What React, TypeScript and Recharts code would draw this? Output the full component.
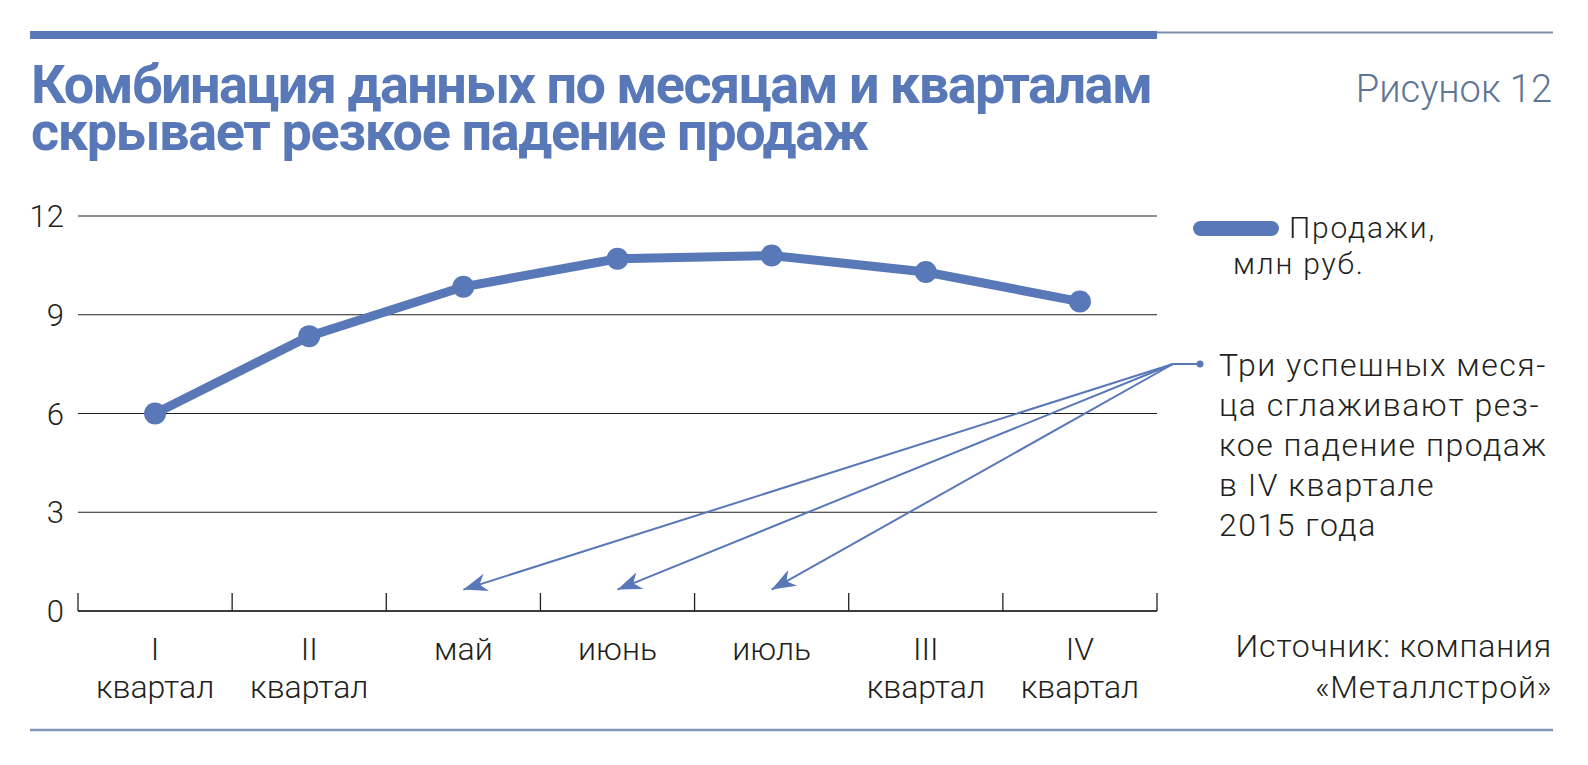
import React from "react";
import {
  LineChart, Line, XAxis, YAxis, CartesianGrid, Legend,
} from "recharts";

const categories = ["I\nквартал", "II\nквартал", "май", "июнь", "июль", "III\nквартал", "IV\nквартал"];
const sales = [6.0, 8.35, 9.85, 10.7, 10.8, 10.3, 9.4];
const yTicks = [0, 3, 6, 9, 12];
const titleLines = ["Комбинация данных по месяцам и кварталам", "скрывает резкое падение продаж"];
const figureLabel = "Рисунок 12";
const legendLines = ["Продажи,", "млн руб."];
const noteLines = ["Три успешных меся-", "ца сглаживают рез-", "кое падение продаж", "в IV квартале", "2015 года"];
const noteTargets = ["май", "июнь", "июль"];
const noteTargetValue = 0.65;
const sourceLines = ["Источник: компания", "«Металлстрой»"];

const W = 1588;
const H = 765;
const PLOT_L = 78;
const PLOT_R = 1157;
const PLOT_T = 216;
const PLOT_B = 611;
const Y_MAX = 12;
const PLOT_W = PLOT_R - PLOT_L;
const BAND = PLOT_W / categories.length;

const BLUE = "#5878b8";
const INK = "#231f20";
const FONT = "Roboto, 'Noto Sans', sans-serif";

const data = categories.map((label, i) => ({ label, value: sales[i] }));

const CategoryTick = ({ x, y, payload, index }: any) => {
  const half = BAND / 2;
  const lines = String(payload.value).split("\n");
  const last = index === categories.length - 1;
  return (
    <g>
      <line x1={x - half} x2={x - half} y1={y - 18} y2={y} stroke={INK} strokeWidth={1.3} />
      {last && <line x1={x + half} x2={x + half} y1={y - 18} y2={y} stroke={INK} strokeWidth={1.3} />}
      <text textAnchor="middle" fontFamily={FONT} fontWeight={300} fontSize={32} fill={INK}>
        {lines.map((l, i) => (
          <tspan key={i} x={x} y={y + 49 + i * 38}>{l}</tspan>
        ))}
      </text>
    </g>
  );
};

const LegendBox = () => (
  <div style={{ fontFamily: FONT, fontWeight: 300, fontSize: 30, color: INK, lineHeight: "36px", letterSpacing: 1.8, whiteSpace: "nowrap" }}>
    <span style={{
      display: "inline-block", width: 86, height: 15, borderRadius: 8,
      background: BLUE, marginRight: 10, verticalAlign: 2,
    }} />
    {legendLines[0]}
    <div style={{ paddingLeft: 40 }}>{legendLines[1]}</div>
  </div>
);

// annotation geometry follows the same linear mapping the chart uses
const xOf = (cat: string) => PLOT_L + (categories.indexOf(cat) + 0.5) * BAND;
const yOf = (v: number) => PLOT_B - (v / Y_MAX) * (PLOT_B - PLOT_T);

export default function App() {
  const hub = { x: 1173, y: 364 };
  return (
    <div style={{ position: "relative", width: W, height: H, background: "#fff" }}>
      <style>{`body{margin:0}`}</style>
      <LineChart
        width={W}
        height={H}
        data={data}
        margin={{ top: PLOT_T, right: W - PLOT_R, bottom: H - PLOT_B - 100, left: 0 }}
      >
        <CartesianGrid vertical={false} stroke={INK} strokeWidth={1.2} />
        <XAxis
          dataKey="label"
          scale="point"
          padding={{ left: BAND / 2, right: BAND / 2 }}
          height={100}
          axisLine={{ stroke: INK, strokeWidth: 1.3 }}
          tickLine={false}
          tickSize={0}
          tickMargin={0}
          interval={0}
          tick={<CategoryTick />}
        />
        <YAxis
          domain={[0, Y_MAX]}
          ticks={yTicks}
          width={PLOT_L}
          axisLine={false}
          tickLine={false}
          tickSize={0}
          tickMargin={14}
          tick={{ fill: INK, fontSize: 31, fontFamily: FONT, fontWeight: 300 }}
        />
        <Legend
          layout="horizontal"
          verticalAlign="middle"
          align="center"
          content={<LegendBox />}
          wrapperStyle={{ position: "absolute", left: 1193, top: 210, width: 380, height: 80 }}
        />
        <Line
          type="linear"
          dataKey="value"
          name="Продажи, млн руб."
          stroke={BLUE}
          strokeWidth={9}
          dot={{ r: 11, fill: BLUE, stroke: "none" }}
          activeDot={false}
          isAnimationActive={false}
        />
      </LineChart>

      <svg width={W} height={H} style={{ position: "absolute", left: 0, top: 0, pointerEvents: "none" }}>
        <defs>
          <marker id="arrowHead" markerUnits="userSpaceOnUse" markerWidth={26} markerHeight={18}
            refX={24} refY={9} orient="auto">
            <path d="M24,9 L0,0 L7,9 L0,18 Z" fill={BLUE} />
          </marker>
        </defs>

        {/* top rule */}
        <rect x={30} y={31} width={PLOT_R - 30} height={8} fill={BLUE} />
        <line x1={PLOT_R} x2={1553} y1={32.5} y2={32.5} stroke="#7d90aa" strokeWidth={2} />

        {/* title */}
        <text fontFamily={FONT} fontWeight={700} fontSize={54} fill={BLUE}>
          <tspan x={31} y={103} textLength={1122} lengthAdjust="spacing">{titleLines[0]}</tspan>
          <tspan x={31} y={150} textLength={838} lengthAdjust="spacing">{titleLines[1]}</tspan>
        </text>
        <text x={1552} y={102} textAnchor="end" fontFamily={FONT} fontWeight={300} fontSize={38} fill="#5e7594">
          {figureLabel}
        </text>

        {/* annotation */}
        {noteTargets.map((c) => (
          <line key={c} x1={hub.x} y1={hub.y} x2={xOf(c)} y2={yOf(noteTargetValue)}
            stroke={BLUE} strokeWidth={2} markerEnd="url(#arrowHead)" />
        ))}
        <line x1={hub.x} x2={1200} y1={hub.y} y2={hub.y} stroke={BLUE} strokeWidth={2} />
        <circle cx={1200} cy={hub.y} r={3.5} fill={BLUE} />
        <text fontFamily={FONT} fontWeight={300} fontSize={32} fill={INK} letterSpacing={1.5}>
          {noteLines.map((l, i) => (
            <tspan key={i} x={1219} y={376 + i * 40}>{l}</tspan>
          ))}
        </text>

        {/* source */}
        <text textAnchor="end" fontFamily={FONT} fontWeight={300} fontSize={32} fill={INK} letterSpacing={0.8}>
          {sourceLines.map((l, i) => (
            <tspan key={i} x={1552} y={657 + i * 41}>{l}</tspan>
          ))}
        </text>

        {/* bottom rule */}
        <line x1={30} x2={1553} y1={730} y2={730} stroke="#8197b5" strokeWidth={2.5} />
      </svg>
    </div>
  );
}
